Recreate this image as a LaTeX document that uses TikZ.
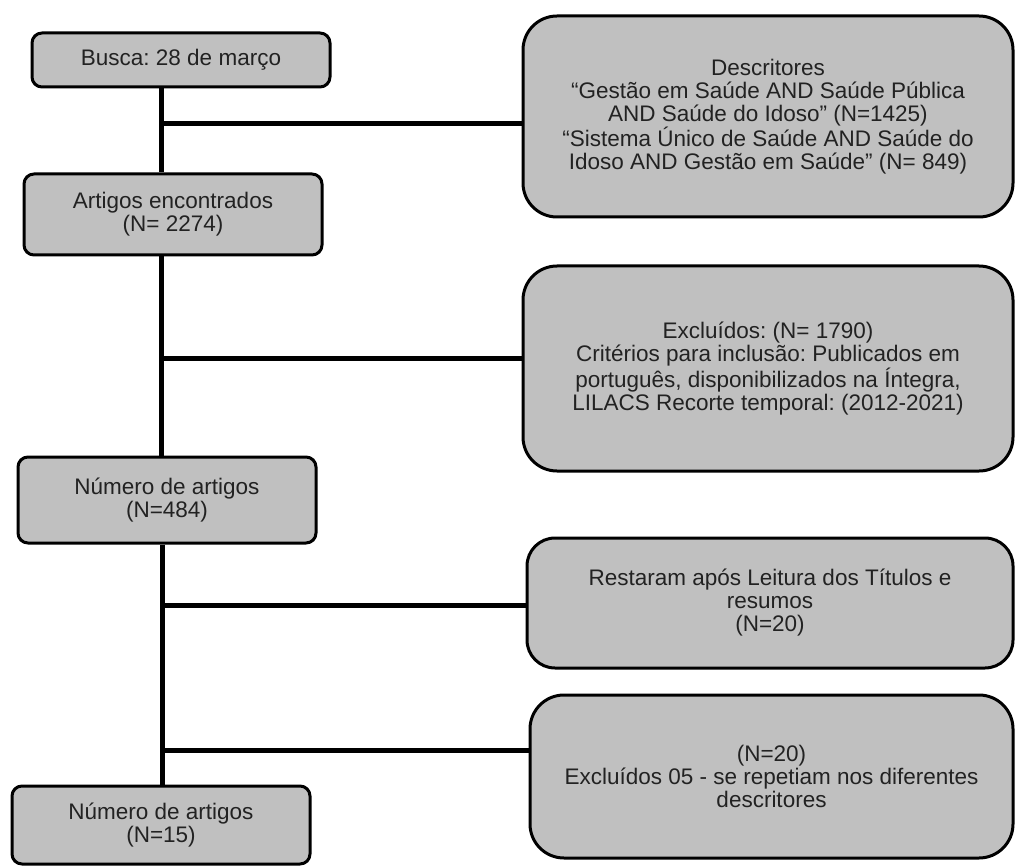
\documentclass[tikz,border=0pt]{standalone}
\usepackage{fontspec}
\setmainfont{Liberation Sans}
\frenchspacing
\definecolor{boxgray}{HTML}{C0C0C0}
\definecolor{txtgray}{HTML}{222222}
\begin{document}
\begin{tikzpicture}[x=1pt,y=-1pt,
  smallbox/.style={draw=black, line width=3pt, fill=boxgray, rounded corners=10pt,
    inner sep=0pt, align=center, text=txtgray,
    font=\fontsize{22.5}{23}\selectfont\frenchspacing},
  bigbox/.style={smallbox, rounded corners=34pt},
  link/.style={line width=5pt, draw=black}]
\useasboundingbox (0,0) rectangle (1016,866);
% left column
\node[smallbox, minimum width=298pt, minimum height=54pt] (b1) at (181,60) {Busca: 28 de março};
\node[smallbox, minimum width=298pt, minimum height=81pt] (b2) at (173,214.5) {Artigos encontrados\\(N= 2274)};
\node[smallbox, minimum width=298pt, minimum height=86pt] (b3) at (167,500) {Número de artigos\\(N=484)};
\node[smallbox, minimum width=298pt, minimum height=78pt] (b4) at (161,825) {Número de artigos\\(N=15)};
% right column
\node[bigbox, minimum width=490pt, minimum height=201pt] (d1) at (768,116.5)
  {Descritores\\“Gestão em Saúde AND Saúde Pública\\AND Saúde do Idoso” (N=1425)\\“Sistema Único de Saúde AND Saúde do\\Idoso AND Gestão em Saúde” (N= 849)};
\node[bigbox, minimum width=490pt, minimum height=205pt] (d2) at (768,368.5)
  {Excluídos: (N= 1790)\\Critérios para inclusão: Publicados em\\português, disponibilizados na Íntegra,\\LILACS Recorte temporal: (2012-2021)};
\node[bigbox, rounded corners=28pt, minimum width=486pt, minimum height=130pt] (d3) at (770,603)
  {Restaram após Leitura dos Títulos e\\resumos\\(N=20)};
\node[bigbox, minimum width=483pt, minimum height=163pt] (d4) at (771.5,776.5)
  {(N=20)\\Excluídos 05 - se repetiam nos diferentes\\descritores};
% spine coordinates
\coordinate (j1) at (161.5,124);
\coordinate (j2) at (161.5,358);
\coordinate (j3) at (162.5,605);
\coordinate (j4) at (162.5,750);
% vertical connectors
\draw[link] (b1.south -| j1) -- (b2.north -| j1);
\draw[link] (b2.south -| j2) -- (b3.north -| j2);
\draw[link] (b3.south -| j3) -- (b4.north -| j3);
% branches
\draw[link] (j1) -- (j1 -| d1.west);
\draw[link] (j2) -- (j2 -| d2.west);
\draw[link] (j3) -- (j3 -| d3.west);
\draw[link] (j4) -- (j4 -| d4.west);
\end{tikzpicture}
\end{document}
